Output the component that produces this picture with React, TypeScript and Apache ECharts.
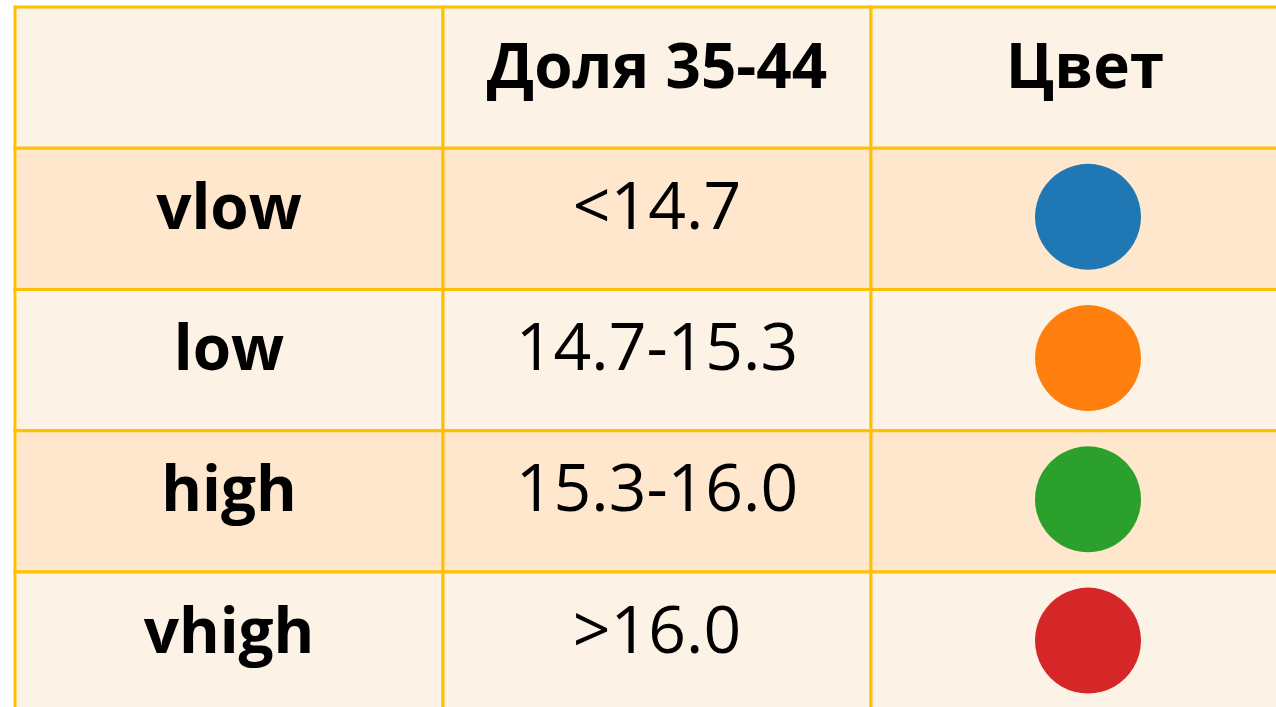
import React, { useEffect, useRef } from "react";
import * as echarts from "echarts";

const headers = ["", "Доля 35-44", "Цвет"];
const categories = ["vlow", "low", "high", "vhigh"];
const ranges = ["<14.7", "14.7-15.3", "15.3-16.0", ">16.0"];
const colors = ["#1f77b4", "#ff7f0e", "#2ca02c", "#d62728"];

const LIGHT = "#fdf2e6";
const DARK = "#fee7cd";
const BORDER = "#ffc000";
const FONT = "'Open Sans', 'Noto Sans', sans-serif";

// cell size in px: 428 x 141.25; grid starts at (15, 7)
const COL_W = 428;
const ROW_H = 141.25;

export default function App() {
  const ref = useRef<HTMLDivElement>(null);
  useEffect(() => {
    if (!ref.current) return;
    const chart = echarts.init(ref.current, undefined, { renderer: "svg" });
    const cells: any[] = [];
    headers.forEach((h, c) => cells.push([c, 0, h, 1]));
    categories.forEach((cat, r) => {
      cells.push([0, r + 1, cat, 1]);
      cells.push([1, r + 1, ranges[r], 0]);
      cells.push([2, r + 1, "", 0]);
    });
    const dots = categories.map((_, r) => ({
      value: [2.5, r + 1.5],
      itemStyle: { color: colors[r], opacity: 1 },
    }));
    const gridW = 1276 - 15;
    const gridH = 707 - 7;
    chart.setOption({
      animation: false,
      grid: { left: 15, top: 7, width: gridW, height: gridH },
      xAxis: { type: "value", min: 0, max: gridW / COL_W, show: false },
      yAxis: { type: "value", min: 0, max: gridH / ROW_H, inverse: true, show: false },
      series: [
        {
          type: "custom",
          data: cells,
          clip: false,
          renderItem: (params: any, api: any) => {
            const c = api.value(0);
            const r = api.value(1);
            const p0 = api.coord([c, r]);
            const p1 = api.coord([c + 1, r + 1]);
            const item = cells[params.dataIndex];
            const bg = r % 2 === 1 ? DARK : LIGHT;
            const cx = (p0[0] + p1[0]) / 2;
            const cy = (p0[1] + p1[1]) / 2;
            const bold = item[3] === 1;
            return {
              type: "group",
              children: [
                {
                  type: "rect",
                  shape: {
                    x: p0[0],
                    y: p0[1],
                    width: p1[0] - p0[0],
                    height: p1[1] - p0[1],
                  },
                  style: { fill: bg, stroke: BORDER, lineWidth: 3 },
                  z2: 0,
                },
                {
                  type: "text",
                  x: cx,
                  y: cy - (bold ? 14 : 16),
                  style: {
                    text: item[2],
                    fill: "#000",
                    font: `${bold ? "bold 62px" : "normal 66px"} ${FONT}`,
                    textAlign: "center",
                    textVerticalAlign: "middle",
                  },
                  z2: 2,
                },
              ],
            };
          },
          z: 1,
        },
        {
          type: "scatter",
          data: dots,
          symbol: "circle",
          symbolSize: 106,
          symbolOffset: [3, -2],
          z: 3,
        },
      ],
    });
    return () => chart.dispose();
  }, []);
  return (
    <div
      ref={ref}
      style={{ position: "fixed", left: 0, top: 0, width: 1276, height: 707, background: "#fff" }}
    />
  );
}
